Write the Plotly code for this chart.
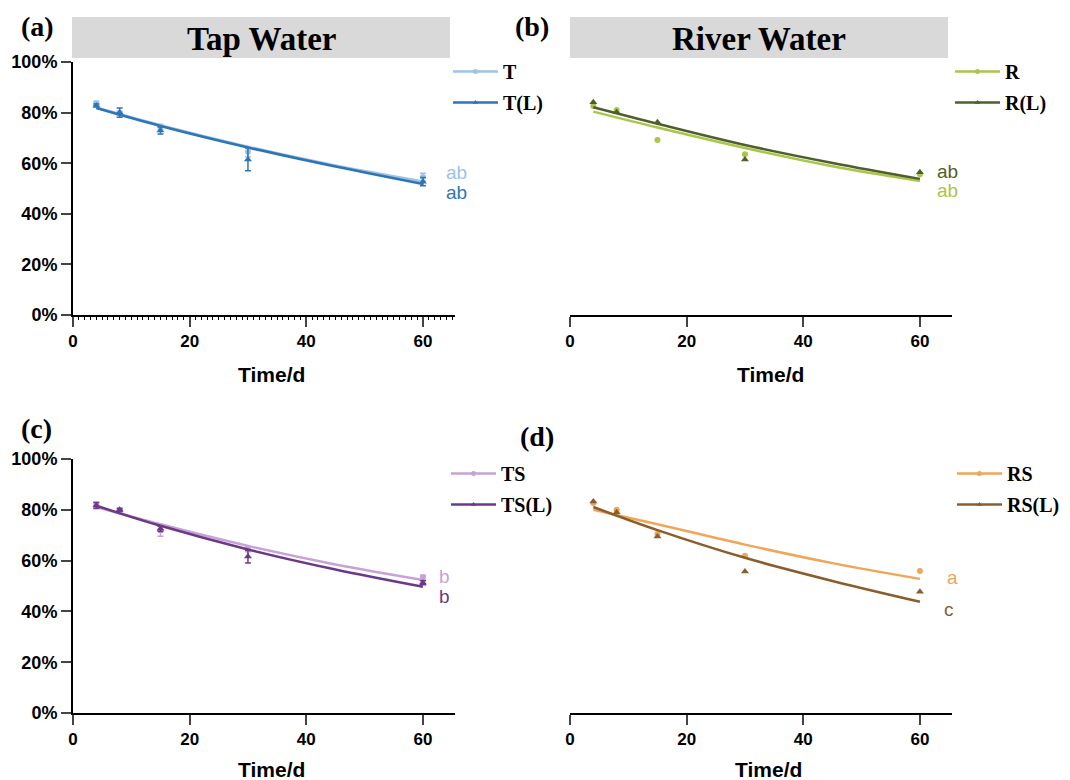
import plotly.graph_objects as go

# ---------------- data ----------------
days = [4, 8, 15, 30, 60]
fit_days = [4, 15, 30, 45, 60]

# (a) Tap Water
T = [83.7, 79.7, 74.4, 64.5, 54.5]
T_err = [0.8, 0.8, 1.0, 2.0, 1.5]
TL = [82.8, 80.0, 72.9, 61.5, 52.7]
TL_err = [0.6, 1.8, 1.4, 4.5, 1.6]
T_fit = [82.0, 75.0, 66.5, 59.1, 52.8]
TL_fit = [81.8, 74.7, 66.2, 58.7, 51.8]

# (b) River Water
R = [82.6, 81.0, 69.2, 63.5, 55.6]
RL = [84.1, 80.1, 76.2, 61.5, 56.4]
R_fit = [80.4, 74.1, 66.0, 58.8, 53.0]
RL_fit = [82.1, 75.6, 67.2, 60.1, 53.8]

# (c) TS
TS = [82.0, 79.5, 71.9, 64.5, 53.4]
TS_err = [1.0, 0.5, 2.3, 1.0, 0.8]
TSL = [81.7, 80.0, 72.5, 61.6, 51.3]
TSL_err = [1.2, 0.6, 1.0, 2.5, 0.8]
TS_fit = [81.1, 74.3, 65.8, 58.5, 52.4]
TSL_fit = [81.6, 73.7, 64.4, 56.5, 49.7]

# (d) RS
RS = [82.7, 80.0, 70.6, 61.9, 55.9]
RSL = [83.3, 79.0, 69.5, 55.7, 47.7]
RS_fit = [80.0, 74.3, 66.3, 59.0, 52.8]
RSL_fit = [81.1, 72.0, 61.1, 52.0, 43.8]

y_ticks = [0, 20, 40, 60, 80, 100]
y_tick_labels = ["0%", "20%", "40%", "60%", "80%", "100%"]
x_ticks = [0, 20, 40, 60]

C = {
    "T": "#9DC3E6", "T(L)": "#2E75B6",
    "R": "#A9C64A", "R(L)": "#4F5F2A",
    "TS": "#C8A2D6", "TS(L)": "#6B3A86",
    "RS": "#F0A658", "RS(L)": "#8A5E2B",
}

# page body margin offset (8px) compensation
OFF = 8
W, H = 1062, 772
SANS = "Liberation Sans"
SERIF = "Liberation Serif"

def px_x(v):
    return (v - OFF) / W

def px_y(v):
    return 1 - (v - OFF) / H

fig = go.Figure()

panels = [
    ("", [("T", T, T_err, T_fit), ("T(L)", TL, TL_err, TL_fit)], "legend"),
    ("2", [("R", R, None, R_fit), ("R(L)", RL, None, RL_fit)], "legend2"),
    ("3", [("TS", TS, TS_err, TS_fit), ("TS(L)", TSL, TSL_err, TSL_fit)], "legend3"),
    ("4", [("RS", RS, None, RS_fit), ("RS(L)", RSL, None, RSL_fit)], "legend4"),
]

for suf, series, leg in panels:
    xa = "x" + suf
    ya = "y" + suf
    for i, (name, vals, err, fit) in enumerate(series):
        col = C[name]
        sym = "circle" if i == 0 else "triangle-up"
        fig.add_trace(go.Scatter(
            x=fit_days, y=fit, mode="lines", line=dict(color=col, width=2.5, shape="spline"),
            xaxis=xa, yaxis=ya, showlegend=False, hoverinfo="skip"))
        fig.add_trace(go.Scatter(
            x=days, y=vals, mode="markers",
            marker=dict(color=col, size=6 if i == 0 else 7, symbol=sym),
            error_y=(dict(type="data", array=err, color=col, thickness=1.5, width=3)
                     if err is not None else None),
            xaxis=xa, yaxis=ya, showlegend=False))
        fig.add_trace(go.Scatter(
            x=[None], y=[None], mode="lines+markers", name=name,
            line=dict(color=col, width=2.5),
            marker=dict(color=col, size=5, symbol=sym),
            xaxis=xa, yaxis=ya, legend=leg, legendgroup=name, showlegend=True))

xa_left = [px_x(73), px_x(455)]
xa_right = [px_x(570), px_x(952)]
ya_top = [px_y(315), px_y(62)]
ya_bot = [px_y(713), px_y(459)]

common_x = dict(range=[0, 65.5], tickvals=x_ticks, ticks="outside", ticklen=10, tickwidth=2,
                showline=True, linewidth=2, linecolor="black", showgrid=False, zeroline=False,
                automargin=False,
                tickfont=dict(family=SANS, size=17, color="black", weight="bold"))
common_y = dict(range=[0, 100], tickvals=y_ticks, ticktext=y_tick_labels, ticks="outside",
                ticklen=10, tickwidth=2, showline=True, linewidth=2, linecolor="black",
                showgrid=False, zeroline=False, automargin=False,
                tickfont=dict(family=SANS, size=18, color="black", weight="bold"))
hidden_y = dict(range=[0, 100], visible=False, showgrid=False, zeroline=False, automargin=False)

fig.update_layout(
    xaxis=dict(domain=xa_left, anchor="y",
               minor=dict(ticks="outside", dtick=1, ticklen=3, tickwidth=1, tickcolor="black"),
               **common_x),
    yaxis=dict(domain=ya_top, anchor="x", **common_y),
    xaxis2=dict(domain=xa_right, anchor="y2", **common_x),
    yaxis2=dict(domain=ya_top, anchor="x2", **hidden_y),
    xaxis3=dict(domain=xa_left, anchor="y3", **common_x),
    yaxis3=dict(domain=ya_bot, anchor="x3", **common_y),
    xaxis4=dict(domain=xa_right, anchor="y4", **common_x),
    yaxis4=dict(domain=ya_bot, anchor="x4", **hidden_y),
)

leg_common = dict(font=dict(family=SERIF, size=20, color="black", weight="bold"),
                  bgcolor="rgba(0,0,0,0)", traceorder="grouped", tracegroupgap=2,
                  xanchor="left", yanchor="top", itemwidth=45)
fig.update_layout(
    legend=dict(x=px_x(448), y=px_y(52), **leg_common),
    legend2=dict(x=px_x(950), y=px_y(52), **leg_common),
    legend3=dict(x=px_x(446), y=px_y(454), **leg_common),
    legend4=dict(x=px_x(952), y=px_y(454), **leg_common),
)

shapes = []
annotations = []
for (x0, x1, label) in [(72, 450, "Tap Water"), (570, 948, "River Water")]:
    shapes.append(dict(type="rect", xref="paper", yref="paper",
                       x0=px_x(x0), x1=px_x(x1), y0=px_y(58), y1=px_y(17),
                       fillcolor="#D9D9D9", line=dict(width=0), layer="below"))
    annotations.append(dict(text=label, xref="paper", yref="paper",
                            x=px_x((x0 + x1) / 2), y=px_y(39), showarrow=False,
                            xanchor="center", yanchor="middle",
                            font=dict(family=SERIF, size=33, color="black", weight="bold")))

for (x, y, t) in [(37, 27, "(a)"), (532, 27, "(b)"), (36, 428, "(c)"), (537, 436, "(d)")]:
    annotations.append(dict(text=t, xref="paper", yref="paper", x=px_x(x), y=px_y(y),
                            showarrow=False, xanchor="center", yanchor="middle",
                            font=dict(family=SERIF, size=28, color="black", weight="bold")))

for (x, y) in [(271, 374), (770, 374), (271, 769), (768, 769)]:
    annotations.append(dict(text="Time/d", xref="paper", yref="paper", x=px_x(x), y=px_y(y),
                            showarrow=False, xanchor="center", yanchor="middle",
                            font=dict(family=SANS, size=21, color="black", weight="bold")))

sig = [
    ("x", "y", 63.6, 56.2, "ab", C["T"]),
    ("x", "y", 63.6, 48.6, "ab", C["T(L)"]),
    ("x2", "y2", 62.5, 56.7, "ab", C["R(L)"]),
    ("x2", "y2", 62.5, 49.2, "ab", C["R"]),
    ("x3", "y3", 62.4, 53.7, "b", C["TS"]),
    ("x3", "y3", 62.4, 45.8, "b", C["TS(L)"]),
    ("x4", "y4", 64.3, 53.3, "a", C["RS"]),
    ("x4", "y4", 63.8, 40.8, "c", C["RS(L)"]),
]
for xr, yr, x, y, t, col in sig:
    annotations.append(dict(text=t, xref=xr, yref=yr, x=x, y=y, showarrow=False,
                            xanchor="left", yanchor="middle",
                            font=dict(family=SANS, size=19, color=col)))

fig.update_layout(
    template="none",
    width=W, height=H, margin=dict(l=0, r=0, t=0, b=0, pad=0, autoexpand=False),
    paper_bgcolor="white", plot_bgcolor="white",
    shapes=shapes, annotations=annotations,
)

fig.write_html("out.html")
